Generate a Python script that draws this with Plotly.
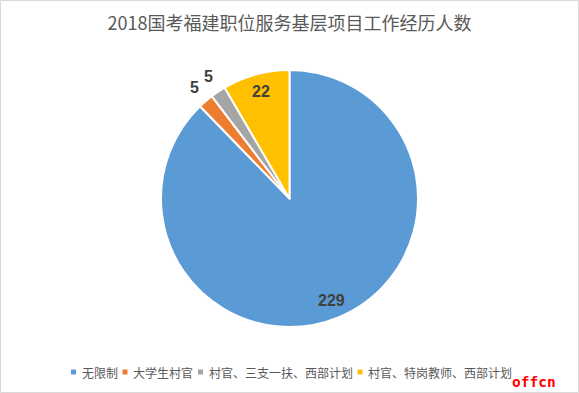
import math
import plotly.graph_objects as go

categories = ["无限制", "大学生村官", "村官、三支一扶、西部计划", "村官、特岗教师、西部计划"]
values = [229, 5, 5, 22]
colors = ["#5B9BD5", "#ED7D31", "#A5A5A5", "#FFC000"]
outside_flags = [False, True, True, False]
title_text = "2018国考福建职位服务基层项目工作经历人数"
brand_text = "offcn"

W, H = 579, 393
M_T, M_B = 70, 66
PLOT_H = H - M_T - M_B
R = PLOT_H / 2.0
OUT_R = R * 1.138
IN_R = R * 0.86

label_font = dict(family="Liberation Sans, Arial, sans-serif", size=16, color="#404040", weight="bold")

fig = go.Figure(go.Pie(
    labels=categories,
    values=values,
    sort=False,
    direction="clockwise",
    rotation=0,
    marker=dict(colors=colors, line=dict(color="white", width=2)),
    textinfo="none",
    hoverinfo="label+value",
    showlegend=False,
))


def px_to_paper_y(py):
    return (M_T + PLOT_H - py) / PLOT_H


annotations = []
shapes = []

# data labels placed from slice mid-angles (computed from data)
total = float(sum(values))
cum = 0.0
for v, o in zip(values, outside_flags):
    mid = (cum + v / 2.0) / total * 2 * math.pi
    cum += v
    rr = OUT_R if o else IN_R
    dx = rr * math.sin(mid)
    dy = rr * math.cos(mid)
    annotations.append(dict(text=str(v), xref="paper", yref="paper",
                            x=0.5 + dx / W, y=0.5 + dy / PLOT_H,
                            showarrow=False, xanchor="center", yanchor="middle",
                            font=label_font))

# legend row (bottom), built from categories and colours
LEG_FONT = 12
LEG_Y = 372
SYM = 5
x = 71.0
for cat, col in zip(categories, colors):
    shapes.append(dict(type="rect", xref="paper", yref="paper",
                       x0=x / W, x1=(x + SYM) / W,
                       y0=px_to_paper_y(LEG_Y + SYM / 2.0), y1=px_to_paper_y(LEG_Y - SYM / 2.0),
                       fillcolor=col, line=dict(width=0)))
    tx = x + 8.5
    annotations.append(dict(text=cat, xref="paper", yref="paper", x=tx / W, y=px_to_paper_y(LEG_Y),
                            xanchor="left", yanchor="middle", showarrow=False,
                            font=dict(family="Noto Sans CJK SC, sans-serif", size=LEG_FONT, color="#595959")))
    x = tx + len(cat) * LEG_FONT + 7.0

annotations.append(dict(text="<b>" + brand_text + "</b>", xref="paper", yref="paper",
                        x=534 / W, y=px_to_paper_y(382), xanchor="center", yanchor="middle",
                        showarrow=False,
                        font=dict(family="DejaVu Sans Mono, monospace", size=14.5, color="#FF0000")))

shapes.append(dict(type="rect", xref="paper", yref="paper", x0=0.5 / W, x1=1 - 0.5 / W,
                   y0=px_to_paper_y(H - 0.5), y1=px_to_paper_y(0.5), line=dict(color="#D9D9D9", width=1)))

fig.update_layout(
    width=W, height=H,
    paper_bgcolor="white",
    margin=dict(l=0, r=0, t=M_T, b=M_B),
    font=dict(family="Noto Sans CJK SC, sans-serif", color="#595959"),
    title=dict(text=title_text, x=0.5, xanchor="center", y=1 - 24 / H, yanchor="middle",
               yref="container", font=dict(size=18, color="#595959", family="Noto Sans CJK SC, sans-serif")),
    showlegend=False,
    annotations=annotations,
    shapes=shapes,
)

fig.write_html("out.html", config={"displayModeBar": False},
               post_script="document.body.style.margin='0';document.body.style.overflow='hidden';")
